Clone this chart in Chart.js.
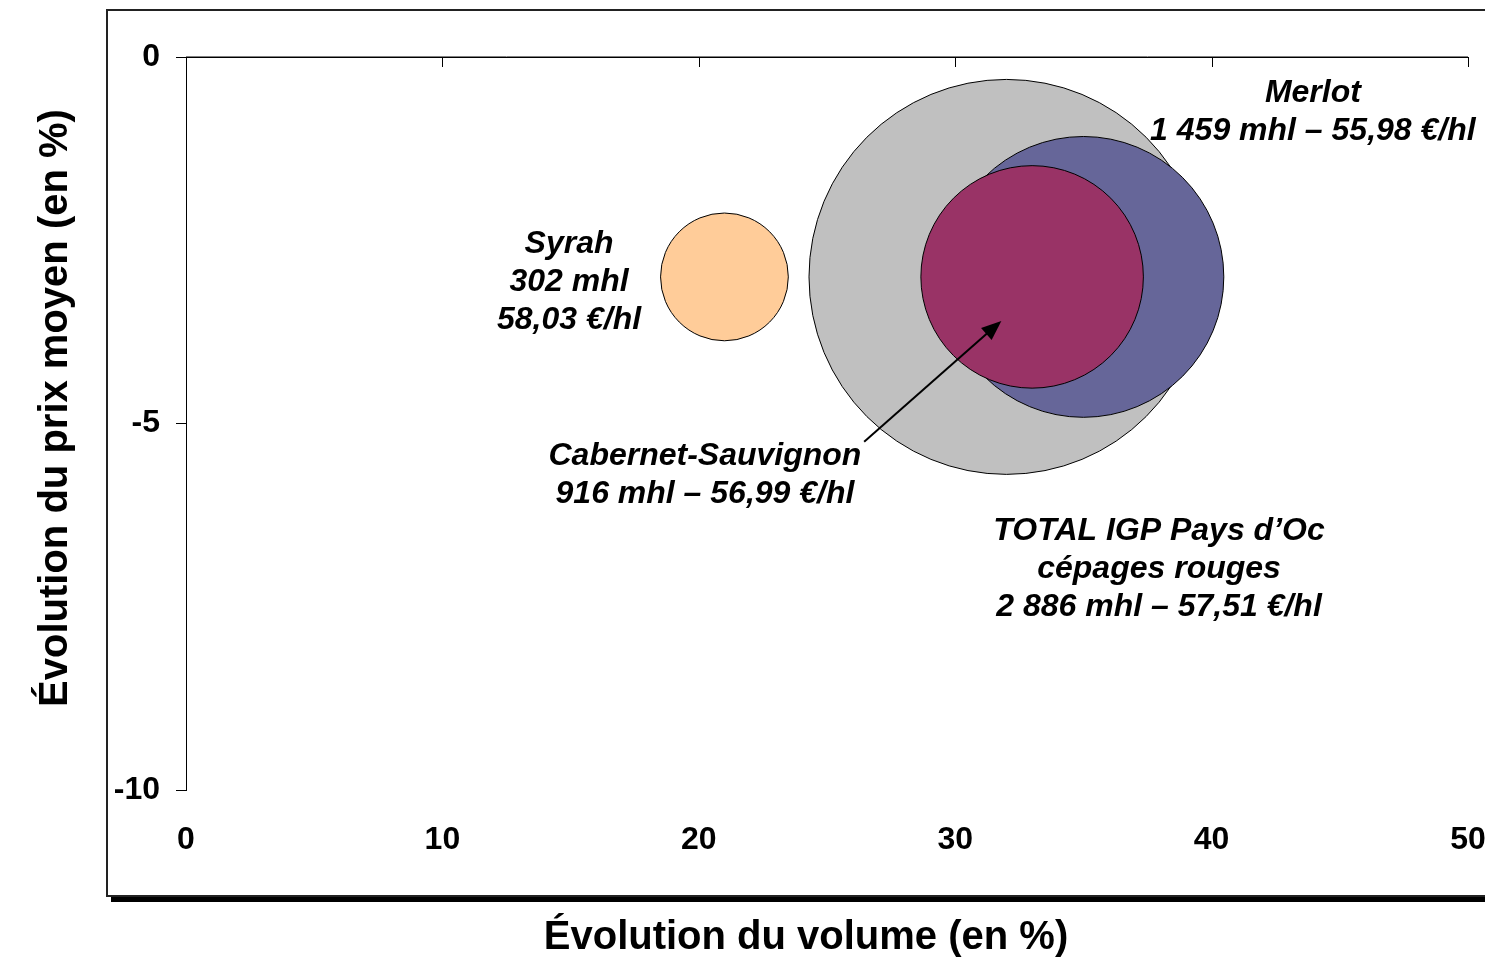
<!DOCTYPE html>
<html>
<head>
<meta charset="utf-8">
<script src="https://cdn.jsdelivr.net/npm/chart.js@4.4.1/dist/chart.umd.min.js"></script>
<style>
  html, body { margin: 0; padding: 0; background: #fff; }
  canvas { display: block; }
</style>
</head>
<body>
<canvas id="bubbleChart" width="1485" height="960"></canvas>
<script>
// Cépages rouges IGP Pays d'Oc - évolution volume / prix

const cepages = ["TOTAL IGP Pays d\u2019Oc", "Merlot", "Cabernet-Sauvignon", "Syrah"];
const evolVolume = [32, 35, 33, 21];      // % (axe x)
const evolPrix = [-3, -3, -3, -3];        // % (axe y)
const volumesMhl = [2886, 1459, 916, 302];
const prixMoyen = [57.51, 55.98, 56.99, 58.03];
const bubbleColors = ["#C0C0C0", "#666699", "#993366", "#FFCC99"];

const xTicks = [0, 10, 20, 30, 40, 50];
const yTicks = [0, -5, -10];

// label anchors (data units) for each bubble's annotation
const labelPos = [[37.95, -6.47], [43.95, -0.49], [20.24, -5.44], [14.94, -2.55]];
const arrowFrom = [26.45, -5.25];
const arrowTo = [31.8, -3.6];

const FONT = "'Liberation Sans', Arial, sans-serif";
const bubbleScale = 3.676; // px per sqrt(mhl)

function fmtInt(n) {
  return String(n).replace(/\B(?=(\d{3})+(?!\d))/g, " ");
}
function fmtPrix(p) {
  return p.toFixed(2).replace(".", ",") + " \u20AC/hl";
}

function labelLines(i) {
  const vol = fmtInt(volumesMhl[i]) + " mhl";
  if (i === 0) return [cepages[i], "c\u00E9pages rouges", vol + " \u2013 " + fmtPrix(prixMoyen[i])];
  if (i === 3) return [cepages[i], vol, fmtPrix(prixMoyen[i])];
  return [cepages[i], vol + " \u2013 " + fmtPrix(prixMoyen[i])];
}

const framePlugin = {
  id: "frame",
  beforeDraw(chart) {
    const ctx = chart.ctx;
    ctx.save();
    ctx.fillStyle = "#000";
    ctx.fillRect(111, 897, 1400, 5);
    ctx.strokeStyle = "#222";
    ctx.lineWidth = 2;
    ctx.strokeRect(107, 10, 1400, 886);
    ctx.restore();
  },
  afterDatasetsDraw(chart) {
    const ctx = chart.ctx;
    const xs = chart.scales.x, ys = chart.scales.y;
    ctx.save();
    // x axis line at y = 0 with ticks pointing down
    const y0 = Math.round(ys.getPixelForValue(0));
    ctx.strokeStyle = "#808080";
    ctx.lineWidth = 1;
    ctx.beginPath();
    ctx.moveTo(xs.getPixelForValue(0), y0 - 0.5);
    ctx.lineTo(xs.getPixelForValue(50), y0 - 0.5);
    ctx.stroke();
    ctx.strokeStyle = "#000";
    ctx.beginPath();
    ctx.moveTo(xs.getPixelForValue(0) - 10, y0 + 0.5);
    ctx.lineTo(xs.getPixelForValue(50), y0 + 0.5);
    xTicks.forEach(t => {
      const px = Math.round(xs.getPixelForValue(t)) + 0.5;
      ctx.moveTo(px, y0);
      ctx.lineTo(px, y0 + 10);
    });
    ctx.stroke();

    // annotations
    ctx.fillStyle = "#000";
    ctx.font = "italic bold 32px " + FONT;
    ctx.textAlign = "center";
    ctx.textBaseline = "middle";
    labelPos.forEach((p, i) => {
      const cx = xs.getPixelForValue(p[0]);
      const cy = ys.getPixelForValue(p[1]);
      labelLines(i).forEach((line, k) => ctx.fillText(line, cx, cy + k * 38));
    });

    // arrow
    const ax = xs.getPixelForValue(arrowFrom[0]), ay = ys.getPixelForValue(arrowFrom[1]);
    const bx = xs.getPixelForValue(arrowTo[0]), by = ys.getPixelForValue(arrowTo[1]);
    const ang = Math.atan2(by - ay, bx - ax);
    ctx.lineWidth = 2;
    ctx.beginPath();
    ctx.moveTo(ax, ay);
    ctx.lineTo(bx - 12 * Math.cos(ang), by - 12 * Math.sin(ang));
    ctx.stroke();
    ctx.beginPath();
    ctx.moveTo(bx, by);
    ctx.lineTo(bx - 20 * Math.cos(ang) + 8 * Math.sin(ang), by - 20 * Math.sin(ang) - 8 * Math.cos(ang));
    ctx.lineTo(bx - 20 * Math.cos(ang) - 8 * Math.sin(ang), by - 20 * Math.sin(ang) + 8 * Math.cos(ang));
    ctx.closePath();
    ctx.fill();

    // axis titles
    ctx.font = "bold 40px " + FONT;
    ctx.fillText("\u00C9volution du volume (en %)", 806, 938);
    ctx.translate(56, 408);
    ctx.rotate(-Math.PI / 2);
    ctx.fillText("\u00C9volution du prix moyen (en %)", 0, 0);
    ctx.restore();
  }
};

new Chart(document.getElementById("bubbleChart"), {
  type: "bubble",
  data: {
    datasets: [{
      label: "C\u00E9pages rouges",
      data: cepages.map((c, i) => ({
        x: evolVolume[i],
        y: evolPrix[i],
        r: bubbleScale * Math.sqrt(volumesMhl[i])
      })),
      backgroundColor: bubbleColors,
      borderColor: "#000",
      borderWidth: 1,
    }],
  },
  options: {
    responsive: false,
    animation: false,
    events: [],
    layout: { autoPadding: false, padding: { top: 57, right: 17, left: 0, bottom: 0 } },
    plugins: {
      legend: { display: false },
      tooltip: { enabled: false },
    },
    scales: {
      x: {
        type: "linear",
        min: 0,
        max: 50,
        afterBuildTicks: s => { s.ticks = xTicks.map(v => ({ value: v })); },
        afterFit: s => { s.height = 170; s.paddingLeft = 0; s.paddingRight = 0; },
        grid: { display: false },
        border: { display: false },
        ticks: {
          padding: 23,
          color: "#000",
          font: { family: FONT, size: 32, weight: "bold" },
        },
      },
      y: {
        type: "linear",
        min: -10,
        max: 0,
        afterBuildTicks: s => { s.ticks = yTicks.map(v => ({ value: v })); },
        afterFit: s => { s.width = 186; s.paddingTop = 0; s.paddingBottom = 0; },
        grid: { drawOnChartArea: false, tickLength: 10, color: "#000" },
        border: { display: true, color: "#000", width: 1 },
        ticks: {
          padding: 16,
          color: "#000",
          font: { family: FONT, size: 32, weight: "bold" },
        },
      },
    },
  },
  plugins: [framePlugin],
});
</script>
</body>
</html>
